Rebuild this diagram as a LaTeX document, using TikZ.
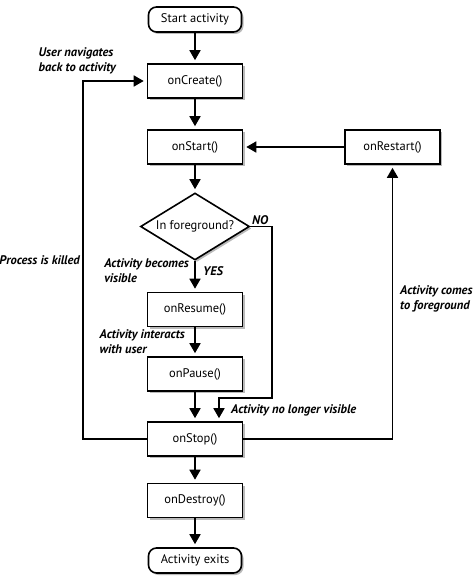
\documentclass[tikz,border=0pt]{standalone}
\usepackage{fontspec}
\setmainfont{PT Sans}
\usetikzlibrary{shapes.geometric,shadows,arrows.meta}

\begin{document}
\begin{tikzpicture}[x=1pt, y=-1pt, font=\fontsize{12.5}{15}\selectfont,
  shade/.style={drop shadow={shadow xshift=2pt, shadow yshift=-2pt, fill=black!45, opacity=0.6}},
  box/.style={draw, line width=1.6pt, fill=white, minimum width=95pt, minimum height=34pt, shade},
  term/.style={box, rounded corners=8pt, minimum width=93pt, minimum height=25pt},
  decision/.style={diamond, aspect=1.6, draw, line width=1.6pt, fill=white, minimum width=109pt, minimum height=67pt, inner sep=0pt, shade},
  flow/.style={line width=1.6pt, -{Triangle[length=10pt,width=11pt]}, shorten >=3pt},
  note/.style={font=\fontsize{12.5}{15.5}\selectfont\itshape\bfseries, align=left, inner sep=0pt}]
  \useasboundingbox (0,0) rectangle (474,586);
  % --- lifecycle boxes ---
  \node[term] (begin) at (195,19.5) {Start activity};
  \node[box] (create) at (195,81) {onCreate()};
  \node[box] (onstart) at (195,147) {onStart()};
  \node[box] (restart) at (392.5,147) {onRestart()};
  \node[decision] (fg) at (195,226.5) {In foreground?};
  \node[box] (resume) at (195,309.5) {onResume()};
  \node[box] (pause) at (195,374) {onPause()};
  \node[box] (stop) at (195,439) {onStop()};
  \node[box] (destroy) at (195,500.5) {onDestroy()};
  \node[term] (exits) at (195,560.5) {Activity exits};
  % --- connectors ---
  \draw[flow] (begin) -- (create);
  \draw[flow] (create) -- (onstart);
  \draw[flow] (restart) -- (onstart);
  \draw[flow] (onstart) -- (fg);
  \draw[flow] (fg) -- (resume);
  \draw[flow] (resume) -- (pause);
  \draw[flow] (pause) -- (stop);
  \coordinate (nobend) at (272,398);
  \draw[flow] (fg.east) -| (nobend) -| ([xshift=24pt]stop.north);
  \draw[flow] (stop.west) -- ++(-64,0) |- (create.west);
  \draw[flow] (stop.east) -| (restart.south);
  \draw[flow] (stop) -- (destroy);
  \draw[flow] (destroy) -- (exits);
  % --- labels ---
  \node[note, anchor=west] (no) at (252,220) {NO};
  \node[note, anchor=west] (yes) at (203,271) {YES};
  \node[note, anchor=north east] (visible) at (189,258) {Activity becomes\\visible};
  \node[note, anchor=north east] (interacts) at (185,329) {Activity interacts\\with user};
  \node[note, anchor=north east] (navigates) at (116,47) {User navigates\\back to activity};
  \node[note, anchor=east] (killed) at (80,260) {Process is killed};
  \node[note, anchor=north west] (comes) at (400,285) {Activity comes\\to foreground};
  \node[note, anchor=west] (novisible) at (231,410) {Activity no longer visible};
\end{tikzpicture}
\end{document}
